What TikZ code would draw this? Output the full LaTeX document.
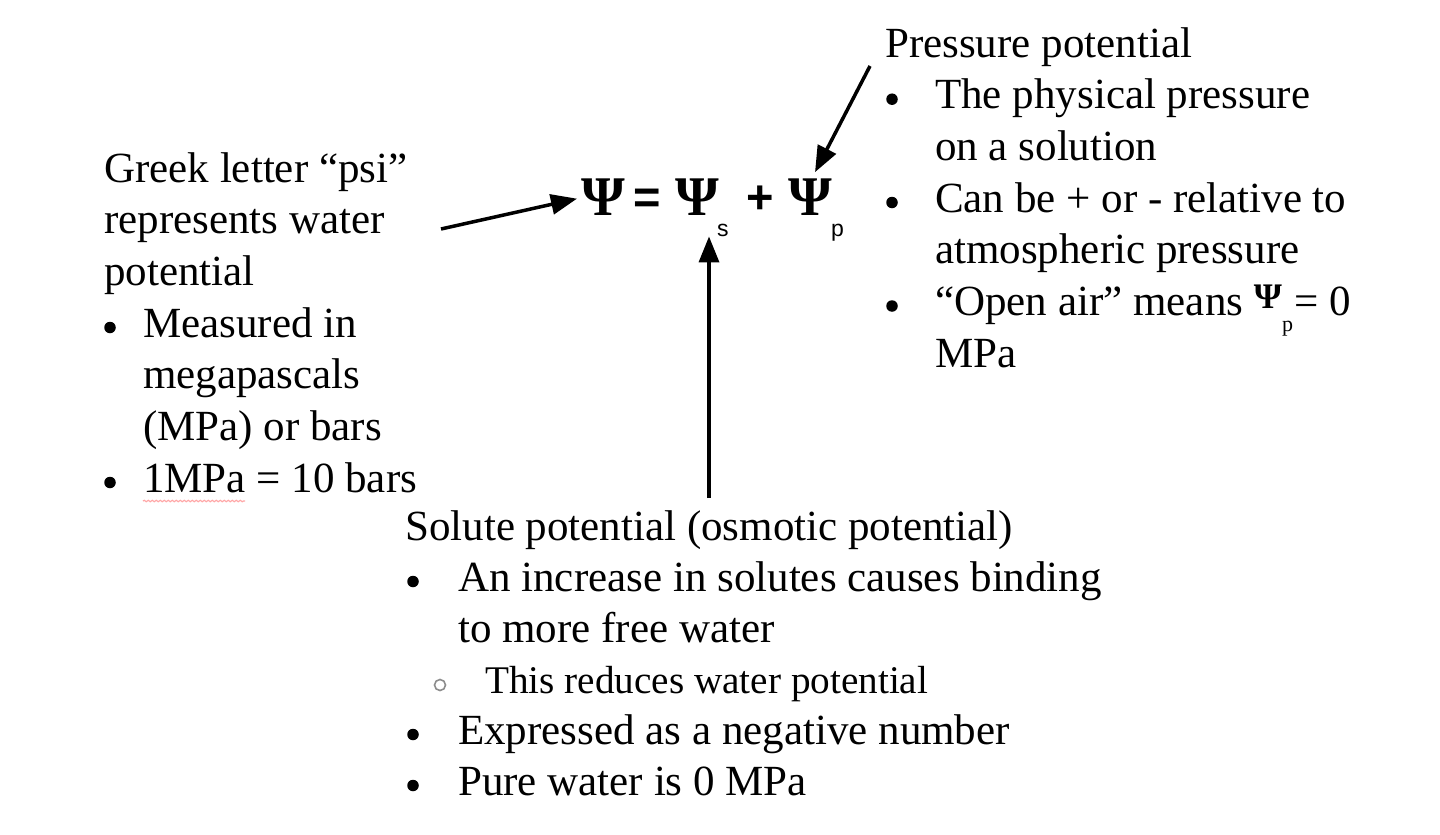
\documentclass[tikz,border=0pt]{standalone}
\usepackage{fontspec}
\setmainfont{Liberation Serif}
\setsansfont{Liberation Sans}
\usetikzlibrary{arrows.meta,decorations.pathmorphing}
\tikzset{
  txt/.style={anchor=base west, inner sep=0pt, font=\fontsize{43}{51}\selectfont},
  subtxt/.style={anchor=base west, inner sep=0pt, font=\fontsize{39.2}{46}\selectfont},
  bul/.style={circle, fill=black, minimum size=11.5pt, inner sep=0pt, yshift=9.5pt},
  eqpsi/.style={anchor=base west, inner sep=0pt, font=\fontsize{56}{60}\selectfont\bfseries},
  eqop/.style={anchor=base west, inner sep=0pt, font=\fontsize{47}{50}\selectfont\sffamily\bfseries},
  eqsub/.style={anchor=base west, inner sep=0pt, font=\fontsize{23}{24}\selectfont\sffamily},
  arr/.style={line width=3.5pt, -{Triangle[length=26pt,width=20pt]}},
  subbul/.style={circle, draw=black!45, line width=1.6pt, minimum size=11pt, inner sep=0pt}
}
\begin{document}
\begin{tikzpicture}[x=1pt,y=-1pt]
\useasboundingbox[fill=white] (0,0) rectangle (1440,835);

% equation
\node[eqpsi] (psi1) at (581,215) {Ψ};
\node[eqop]  (eqs)  at (633,213) {=};
\node[eqpsi] (psi2) at (675,215) {Ψ};
\node[eqsub] (subs) at (717,236) {s};
\node[eqop]  (plus) at (746,213) {+};
\node[eqpsi] (psi3) at (788,215) {Ψ};
\node[eqsub] (subp) at (831,236) {p};

% left block
\node[txt] (l1) at (104,182) {Greek letter “psi”};
\node[txt] (l2) at (104,233.5) {represents water};
\node[txt] (l3) at (104,285) {potential};
\node[bul] (lb1) at (110,337) {};
\node[txt] (l4) at (143,337) {Measured in};
\node[txt] (l5) at (143,388) {megapascals};
\node[txt] (l6) at (143,440) {(MPa) or bars};
\node[bul] (lb2) at (110,492) {};
\node[txt] (l7) at (143,492) {1MPa = 10 bars};
\draw[red!35, line width=1.2pt, decorate, decoration={snake, amplitude=0.7pt, segment length=4pt}] (143,501) -- (245,501);

% pressure block
\node[txt] (p1) at (885,57) {Pressure potential};
\node[bul] (pb1) at (892,108.7) {};
\node[txt] (p2) at (935,108.7) {The physical pressure};
\node[txt] (p3) at (935,160.4) {on a solution};
\node[bul] (pb2) at (892,212) {};
\node[txt] (p4) at (935,212) {Can be + or - relative to};
\node[txt] (p5) at (935,263.8) {atmospheric pressure};
\node[bul] (pb3) at (892,315.5) {};
\node[txt] (p6) at (935,315.5) {“Open air” means \raisebox{7pt}{\fontsize{36}{36}\selectfont\bfseries Ψ}\raisebox{-16pt}{\fontsize{22}{22}\selectfont p}\kern1pt= 0};
\node[txt] (p7) at (935,367.2) {MPa};

% solute block
\node[txt] (s1) at (405,540) {Solute potential (osmotic potential)};
\node[bul] (sb1) at (413,591) {};
\node[txt] (s2) at (458,591) {An increase in solutes causes binding};
\node[txt] (s3) at (458,642) {to more free water};
\node[subbul] (sb2) at (440,685) {};
\node[subtxt] (s4) at (485,693) {This reduces water potential};
\node[bul] (sb3) at (413,744) {};
\node[txt] (s5) at (458,744) {Expressed as a negative number};
\node[bul] (sb4) at (413,795) {};
\node[txt] (s6) at (458,795) {Pure water is 0 MPa};

% arrows
\coordinate (a1) at (441,229);
\coordinate (a2) at (709,498);
\coordinate (a3) at (870,66);
\draw[arr] (a1) -- ([xshift=-4pt,yshift=-2pt]psi1.west);
\draw[arr] (a2) -- (a2 |- subs.south);
\draw[arr] (a3) -- ([xshift=5pt,yshift=6pt]psi3.north);
\end{tikzpicture}
\end{document}
